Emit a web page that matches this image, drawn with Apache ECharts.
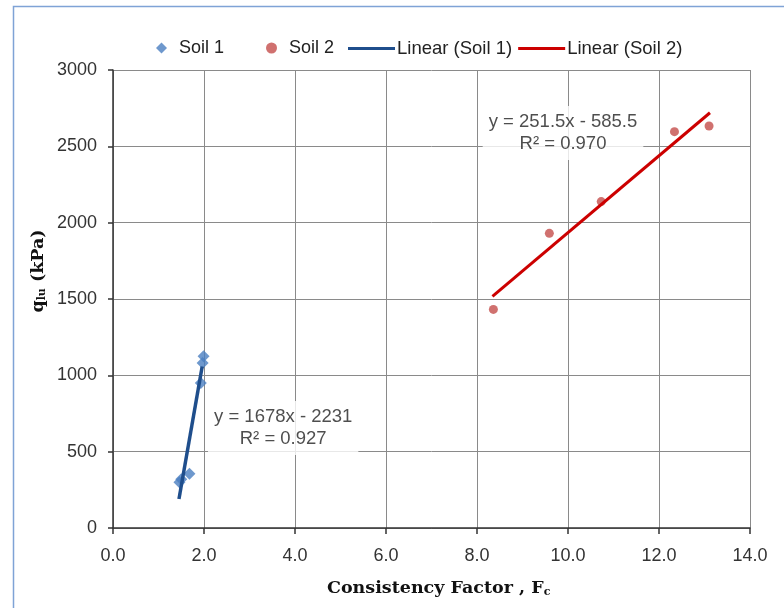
<!DOCTYPE html>
<html>
<head>
<meta charset="utf-8">
<script src="https://cdn.jsdelivr.net/npm/echarts@6/dist/echarts.min.js"></script>
<style>
html,body{margin:0;padding:0;background:#fff;}
#chart{width:784px;height:608px;}
</style>
</head>
<body>
<div id="chart"></div>
<script>
// ---- data ----
const soil1 = [[1.46, 300], [1.50, 320], [1.68, 355], [1.93, 950], [1.97, 1080], [1.99, 1125]];
const soil2 = [[8.36, 1432], [9.59, 1930], [10.73, 2138], [12.34, 2596], [13.10, 2633]];
const trend1 = [[1.45, 190], [1.96, 1058]];
const trend2 = [[8.34, 1517], [13.12, 2720]];
const eq1Text = ['y = 1678x - 2231', 'R² = 0.927'];
const eq1Pos = [3.74, 655];
const eq2Text = ['y = 251.5x - 585.5', 'R² = 0.970'];
const eq2Pos = [9.89, 2588];
const xTicks = [0, 2, 4, 6, 8, 10, 12, 14];
const yTicks = [0, 500, 1000, 1500, 2000, 2500, 3000];
const seriesNames = ['Soil 1', 'Soil 2', 'Linear (Soil 1)', 'Linear (Soil 2)'];

const font = 'Liberation Sans';
const chart = echarts.init(document.getElementById('chart'), null, {renderer: 'canvas'});
const option = {
  animation: false,
  backgroundColor: '#fff',
  grid: {left: 113, right: 34, top: 70, bottom: 80},
  legend: [
    {
      data: [seriesNames[0], seriesNames[1]],
      left: 151, top: 34,
      itemWidth: 11, itemHeight: 11, itemGap: 42,
      textStyle: {fontFamily: font, fontSize: 18, color: '#222', padding: [0, 0, 0, 7]}
    },
    {
      data: [
        {name: seriesNames[2], icon: 'rect'},
        {name: seriesNames[3], icon: 'rect'}
      ],
      left: 343, top: 34,
      itemWidth: 47, itemHeight: 3, itemGap: 6,
      textStyle: {fontFamily: font, fontSize: 18.5, color: '#222', padding: [0, 0, 0, -3]}
    }
  ],
  xAxis: {
    type: 'value', min: xTicks[0], max: xTicks[xTicks.length - 1], interval: 2,
    axisLine: {show: true, onZero: false, lineStyle: {color: '#333', width: 1.5}},
    axisTick: {show: true, inside: false, length: 6, lineStyle: {color: '#333', width: 1.5}},
    axisLabel: {fontFamily: font, fontSize: 18, color: '#333', margin: 19, formatter: v => v.toFixed(1)},
    splitLine: {show: true, lineStyle: {color: '#8a8a8a', width: 1}}
  },
  yAxis: {
    type: 'value', min: yTicks[0], max: yTicks[yTicks.length - 1], interval: 500,
    axisLine: {show: true, onZero: false, lineStyle: {color: '#333', width: 1.5}},
    axisTick: {show: true, inside: false, length: 5, lineStyle: {color: '#333', width: 1.5}},
    axisLabel: {fontFamily: font, fontSize: 18, color: '#333', margin: 16, formatter: v => String(v)},
    splitLine: {show: true, lineStyle: {color: '#8a8a8a', width: 1}}
  },
  graphic: [
    {
      type: 'rect', left: 11, top: 4, z: 100, silent: true,
      shape: {width: 900, height: 800},
      style: {fill: 'none', stroke: '#7fa3d6', lineWidth: 1.5}
    },
    {
      type: 'text', left: 327, top: 579, z: 100,
      style: {
        text: '{a|Consistency Factor , F}{s|c}',
        rich: {
          a: {fontFamily: 'DejaVu Serif', fontWeight: 'bold', fontSize: 17.5, fill: '#111'},
          s: {fontFamily: 'DejaVu Serif', fontWeight: 'bold', fontSize: 11, fill: '#111', padding: [9, 0, 0, 0]}
        }
      }
    },
    {
      type: 'text', x: 38, y: 271, rotation: Math.PI / 2, z: 100,
      style: {
        text: '{a|q}{s|lu}{a| (kPa)}',
        align: 'center', verticalAlign: 'middle',
        rich: {
          a: {fontFamily: 'DejaVu Serif', fontWeight: 'bold', fontSize: 17.5, fill: '#111'},
          s: {fontFamily: 'DejaVu Serif', fontWeight: 'bold', fontSize: 11, fill: '#111', padding: [9, 0, 0, 0]}
        }
      }
    }
  ],
  series: [
    {
      name: seriesNames[0], type: 'scatter', data: soil1, symbol: 'diamond', symbolSize: 12,
      itemStyle: {color: '#4A7EC0'}, z: 2
    },
    {
      name: seriesNames[1], type: 'scatter', data: soil2, symbol: 'circle', symbolSize: 9,
      itemStyle: {color: '#C44E4B'}, z: 2
    },
    {
      name: seriesNames[2], type: 'line', data: trend1, showSymbol: false, symbol: 'none',
      lineStyle: {color: '#1F4E8C', width: 3.5}, itemStyle: {color: '#1F4E8C'}, z: 3
    },
    {
      name: seriesNames[3], type: 'line', data: trend2, showSymbol: false, symbol: 'none',
      lineStyle: {color: '#CC0000', width: 3}, itemStyle: {color: '#CC0000'}, z: 3
    },
    {
      name: 'eq', type: 'scatter', symbolSize: 0, z: 4, silent: true,
      data: [
        {value: eq1Pos, label: {formatter: eq1Text.join('\n')}},
        {value: eq2Pos, label: {formatter: eq2Text.join('\n')}}
      ],
      label: {
        show: true, position: 'inside', align: 'center', verticalAlign: 'middle',
        fontFamily: font, fontSize: 18.5, color: '#222', lineHeight: 22,
        backgroundColor: '#fff', padding: [5, 6]
      }
    }
  ]
};
chart.setOption(option);
</script>
</body>
</html>
